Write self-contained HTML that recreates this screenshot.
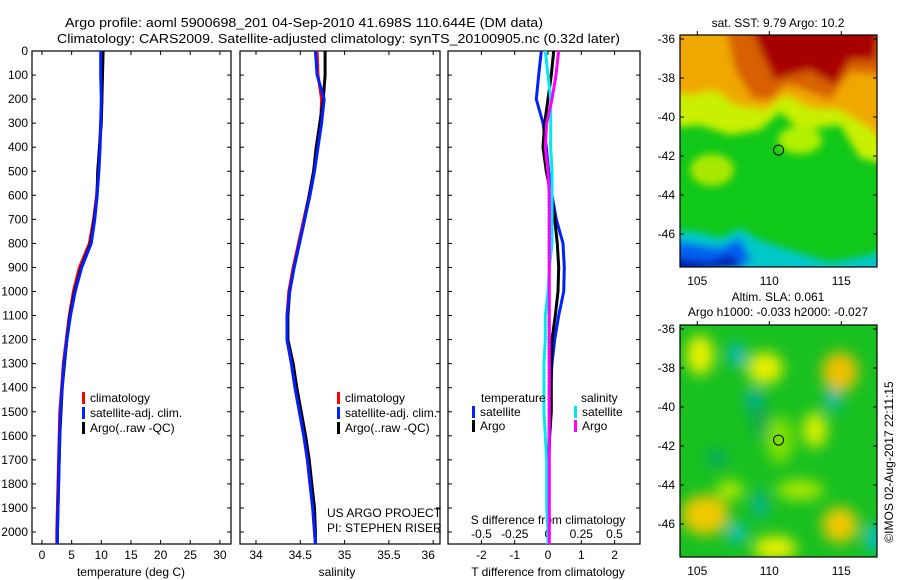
<!DOCTYPE html>
<html><head><meta charset="utf-8">
<style>
html,body{margin:0;padding:0;background:#fff;}
svg{display:block;font-family:"Liberation Sans",sans-serif;}
text{fill:#000;font-size:12px;}
</style></head>
<body>
<svg id="fig" width="900" height="580" viewBox="0 0 900 580" xmlns="http://www.w3.org/2000/svg">
<defs>
  <filter id="blur1" x="-20%" y="-20%" width="140%" height="140%"><feGaussianBlur stdDeviation="4"/></filter>
  <filter id="blur2" x="-20%" y="-20%" width="140%" height="140%"><feGaussianBlur stdDeviation="7"/></filter>
  <clipPath id="clipA"><rect x="680" y="35" width="197" height="232"/></clipPath>
  <clipPath id="clipB"><rect x="680" y="325" width="197" height="232"/></clipPath>
</defs>
<text x="65" y="27" textLength="478" lengthAdjust="spacingAndGlyphs" style="font-size:13px">Argo profile: aoml 5900698_201 04-Sep-2010 41.698S 110.644E (DM data)</text>
<text x="57" y="43" textLength="563" lengthAdjust="spacingAndGlyphs" style="font-size:13px">Climatology: CARS2009. Satellite-adjusted climatology: synTS_20100905.nc (0.32d later)</text>
<g id="panels"></g>
<g id="maps"></g>
</svg>
<script>
// ---- data ----
const depths = [0,100,200,300,400,500,600,700,800,900,1000,1100,1200,1300,1400,1500,1600,1700,1800,1900,2000,2050];
const tempClim = [10.0,10.0,10.1,9.9,9.7,9.5,9.2,8.7,8.0,6.3,5.3,4.6,4.1,3.6,3.3,3.0,2.9,2.8,2.7,2.6,2.5,2.5];
const tempSat  = [9.9,9.9,10.0,9.9,9.8,9.6,9.3,8.9,8.3,6.7,5.6,4.8,4.2,3.7,3.4,3.1,3.0,2.9,2.8,2.7,2.6,2.6];
const tempArgo = [10.3,10.2,10.1,10.0,9.7,9.4,9.3,8.8,8.2,6.6,5.5,4.7,4.2,3.8,3.4,3.2,3.0,2.9,2.8,2.7,2.6,2.6];
const salClim = [34.69,34.70,34.74,34.73,34.69,34.65,34.60,34.54,34.48,34.42,34.37,34.35,34.35,34.40,34.44,34.49,34.54,34.58,34.61,34.64,34.66,34.67];
const salSat  = [34.67,34.69,34.77,34.74,34.70,34.66,34.61,34.55,34.49,34.43,34.38,34.35,34.35,34.40,34.44,34.49,34.54,34.58,34.61,34.64,34.66,34.67];
const salArgo = [34.78,34.78,34.76,34.72,34.68,34.65,34.60,34.55,34.49,34.43,34.38,34.36,34.36,34.42,34.46,34.51,34.56,34.60,34.63,34.66,34.67,34.67];
const dTSat  = [-0.2,-0.28,-0.35,-0.15,-0.05,0.02,0.12,0.25,0.45,0.49,0.47,0.32,0.2,0.12,0.08,0.05,0.04,0.03,0.02,0.01,0.0,0.0];
const dTArgo = [0.17,0.1,0.0,-0.1,-0.15,-0.05,0.1,0.2,0.28,0.32,0.3,0.22,0.12,0.1,0.1,0.1,0.05,0.02,0.01,0.01,0.0,0.0];
const dSSat  = [-0.02,0.0,0.02,0.02,0.02,0.03,0.03,0.03,0.03,0.01,0.0,-0.02,-0.02,-0.03,-0.03,-0.03,-0.02,-0.01,-0.01,-0.01,0.0,0.0];
const dSArgo = [0.08,0.06,0.03,-0.01,-0.02,0.0,0.01,0.01,0.01,0.01,0.01,0.01,0.01,0.01,0.01,0.01,0.01,0.01,0.01,0.01,0.01,0.01];
const depthTicks = [0,100,200,300,400,500,600,700,800,900,1000,1100,1200,1300,1400,1500,1600,1700,1800,1900,2000];
const tempTicks = [0,5,10,15,20,25,30];
const salTicks = [34,34.5,35,35.5,36];
const salTickLabels = ["34","34.5","35","35.5","36"];
const dTTicks = [-2,-1,0,1,2];
const dSTicks = [-0.5,-0.25,0,0.25,0.5];
const dSTickLabels = ["-0.5","-0.25","0","0.25","0.5"];
const latTicks = [-36,-38,-40,-42,-44,-46];
const lonTicks = [105,110,115];
const argoPos = [110.644,-41.698];

const NS="http://www.w3.org/2000/svg";
const P=document.getElementById('panels');
function mk(tag,attrs,parent,txt){const e=document.createElementNS(NS,tag);for(const k in attrs)e.setAttribute(k,attrs[k]);if(txt!==undefined)e.textContent=txt;(parent||P).appendChild(e);return e;}
const top0=51, bot=544;
function yD(d){return top0+d*0.2405;}
function xT(t){return 42+t*5.93;}
function xS(s){return 256+(s-34)*88.6;}
function xdT(t){return 548+t*33.3;}
function xdS(s){return 548+s*133;}

function box(x0,x1,name){
  const r=mk('rect',{x:x0,y:top0,width:x1-x0,height:bot-top0,fill:'none',stroke:'#000','stroke-width':1.2});
  
  
}
box(32,231,'temperature-panel');
box(240,440,'salinity-panel');
box(448,640,'difference-panel');

depthTicks.forEach(d=>{
  const y=yD(d);
  [[32,36],[227,231],[240,244],[436,440],[448,452],[636,640]].forEach(p=>{
    const l=mk('line',{x1:p[0],x2:p[1],y1:y,y2:y,stroke:'#000'});
    
    
  });
  const t=mk('text',{x:28,y:y+4,'text-anchor':'end'},P,String(d));
  
  
});

function xticks(vals,labels,fx,ylab,name){
  vals.forEach((v,i)=>{
    const x=fx(v);
    const a=mk('line',{x1:x,x2:x,y1:bot,y2:bot-4,stroke:'#000'});
    
    
    const b=mk('line',{x1:x,x2:x,y1:top0,y2:top0+4,stroke:'#000'});
    
    
    const lx = (name==='salinity' && i===vals.length-1) ? x-5 : x;
    const t=mk('text',{x:lx,y:ylab,'text-anchor':'middle'},P,labels[i]);
    
    
  });
}
xticks(tempTicks,tempTicks.map(String),xT,559,'temperature');
xticks(salTicks,salTickLabels,xS,559,'salinity');
xticks(dTTicks,dTTicks.map(String),xdT,559,'t-difference');
dSTicks.forEach((v,i)=>{
  const t=mk('text',{x:xdS(v),y:538,'text-anchor':'middle'},P,dSTickLabels[i]);
  
  
});

function label(x,y,s,name,anchor){const t=mk('text',{x:x,y:y,'text-anchor':anchor||'middle'},P,s);return t;}
label(131,576,'temperature (deg C)','temperature-axis-title');
label(337,576,'salinity','salinity-axis-title');
label(548,576,'T difference from climatology','t-difference-axis-title');
label(548,524,'S difference from climatology','s-difference-axis-title');
label(327,517,'US ARGO PROJECT','project-label','start');
label(327,532,'PI: STEPHEN RISER','pi-label','start');

const z=mk('line',{x1:xdT(0),x2:xdT(0),y1:yD(500),y2:yD(2000),stroke:'#000','stroke-dasharray':'1,2'});



function series(vals,fx,color,name){
  const pts=vals.map((v,i)=>fx(v).toFixed(1)+','+yD(depths[i]).toFixed(1)).join(' ');
  const l=mk('polyline',{points:pts,fill:'none',stroke:color,'stroke-width':3,'stroke-linejoin':'round'});
  
  
}
series(tempClim,xT,'#f00','temperature-climatology-line');
series(tempArgo,xT,'#000','temperature-argo-line');
series(tempSat,xT,'#0020ff','temperature-satellite-line');
series(salClim,xS,'#f00','salinity-climatology-line');
series(salArgo,xS,'#000','salinity-argo-line');
series(salSat,xS,'#0020ff','salinity-satellite-line');
series(dTSat,xdT,'#0020ff','t-diff-satellite-line');
series(dTArgo,xdT,'#000','t-diff-argo-line');
series(dSSat,xdS,'#00e8f0','s-diff-satellite-line');
series(dSArgo,xdS,'#ff00ff','s-diff-argo-line');

function legItem(x,y,color,txt,name){
  const r=mk('rect',{x:x,y:y-10,width:3,height:12,fill:color});
  
  
  label(x+8,y,txt,name,'start');
}
legItem(82,402,'#f00','climatology','legend-climatology');
legItem(82,417,'#0020ff','satellite-adj. clim.','legend-satellite');
legItem(82,432,'#000','Argo(..raw -QC)','legend-argo');
legItem(337,402,'#f00','climatology','legend-climatology-2');
legItem(337,417,'#0020ff','satellite-adj. clim.','legend-satellite-2');
legItem(337,432,'#000','Argo(..raw -QC)','legend-argo-2');
label(481,402,'temperature','legend-temperature-header','start');
legItem(472,416,'#0020ff','satellite','legend-t-satellite');
legItem(472,430,'#000','Argo','legend-t-argo');
label(581,402,'salinity','legend-salinity-header','start');
legItem(574,416,'#00e8f0','satellite','legend-s-satellite');
legItem(574,430,'#ff00ff','Argo','legend-s-argo');

const M=document.getElementById('maps');
function mapAxes(y0,name){
  const lon=v=>680+(v-103.8)*14.4;
  const lat=v=>y0+4+(-36-v)*19.5;
  latTicks.forEach(v=>{
    const y=lat(v);
    const t=mk('text',{x:675,y:y+4,'text-anchor':'end'},M,String(v));
    
    
    const a=mk('line',{x1:680,x2:684,y1:y,y2:y,stroke:'#000'},M);
    
    
    const b=mk('line',{x1:873,x2:877,y1:y,y2:y,stroke:'#000'},M);
    
    
  });
  lonTicks.forEach(v=>{
    const x=lon(v);
    const t=mk('text',{x:x,y:y0+250,'text-anchor':'middle'},M,String(v));
    
    
    const a=mk('line',{x1:x,x2:x,y1:y0-4,y2:y0,stroke:'#000'},M);
    
    
  });
  const c=mk('circle',{cx:lon(argoPos[0]),cy:lat(argoPos[1]),r:5,fill:'none',stroke:'#000'},M);
  
  
  const r=mk('rect',{x:680,y:y0,width:197,height:232,fill:'none',stroke:'#000','stroke-width':1.2},M);
  
  
}
</script>
<script>
(function(){
const maps=document.getElementById('maps');
const html=`
<g clip-path="url(#clipA)">
 <rect x="680" y="35" width="197" height="232" fill="#10c818"/>
 <g filter="url(#blur1)">
  <polygon points="670,25 890,25 890,165 860,158 840,125 800,130 780,112 760,130 730,135 700,125 670,128" fill="#c8f000"/>
  <ellipse cx="712" cy="170" rx="22" ry="16" fill="#a8e800"/>
  <polygon points="670,25 890,25 890,145 865,125 840,110 810,108 785,95 765,110 735,105 715,90 690,95 670,92" fill="#f0a800"/>
  <polygon points="725,25 890,25 890,75 850,72 830,100 800,88 785,85 770,100 752,98 735,70" fill="#d86000"/>
  <polygon points="750,25 880,25 875,60 850,60 835,85 810,70 790,75 775,80 765,60" fill="#a80000"/>
  <ellipse cx="800" cy="140" rx="22" ry="14" fill="#b0f000"/>
  <polygon points="670,230 700,232 720,238 740,228 760,240 790,250 830,262 870,255 890,245 890,280 670,280" fill="#00c8c8"/>
  <polygon points="670,240 720,248 740,238 752,262 670,275" fill="#0060f0"/>
  <polygon points="670,258 710,262 730,255 745,268 670,275" fill="#0010b0"/>
 </g>
</g>
<g clip-path="url(#clipB)">
 <rect x="680" y="325" width="197" height="232" fill="#18c020"/>
 <g filter="url(#blur2)">
  <ellipse cx="700" cy="355" rx="14" ry="20" fill="#e8f000"/>
  <ellipse cx="765" cy="368" rx="18" ry="16" fill="#e8f000"/>
  <ellipse cx="840" cy="372" rx="18" ry="20" fill="#f0c000"/>
  <ellipse cx="815" cy="430" rx="12" ry="18" fill="#d8f000"/>
  <ellipse cx="705" cy="515" rx="24" ry="20" fill="#f0c800"/>
  <ellipse cx="840" cy="525" rx="18" ry="18" fill="#f0c800"/>
  <ellipse cx="775" cy="548" rx="22" ry="12" fill="#e8f000"/>
  <ellipse cx="800" cy="490" rx="24" ry="10" fill="#a8e800"/>
  <ellipse cx="730" cy="490" rx="14" ry="10" fill="#a8e800"/>
  <ellipse cx="780" cy="440" rx="14" ry="24" fill="#80e000"/>
  <ellipse cx="737" cy="355" rx="8" ry="12" fill="#00b8d0"/>
  <ellipse cx="755" cy="400" rx="9" ry="12" fill="#00b0a0"/>
  <ellipse cx="833" cy="400" rx="8" ry="11" fill="#00b8b8"/>
  <ellipse cx="737" cy="533" rx="9" ry="10" fill="#00c0d0"/>
  <ellipse cx="760" cy="505" rx="7" ry="14" fill="#00b0a0"/>
  <ellipse cx="875" cy="538" rx="10" ry="14" fill="#00c0c8"/>
  <ellipse cx="717" cy="458" rx="10" ry="8" fill="#00a870"/>
  <ellipse cx="760" cy="420" rx="8" ry="20" fill="#10a850"/>
 </g>
</g>
<text x="778" y="27" text-anchor="middle">sat. SST: 9.79 Argo: 10.2</text>
<text x="778" y="301" text-anchor="middle">Altim. SLA: 0.061</text>
<text x="778" y="316" text-anchor="middle">Argo h1000: -0.033 h2000: -0.027</text>
<text x="0" y="0" text-anchor="middle" transform="translate(893,462) rotate(-90)">©IMOS 02-Aug-2017 22:11:15</text>`;
maps.insertAdjacentHTML('beforeend', html);
mapAxes(35,'sst-map');
mapAxes(325,'sla-map');
})();
</script>
</body></html>
